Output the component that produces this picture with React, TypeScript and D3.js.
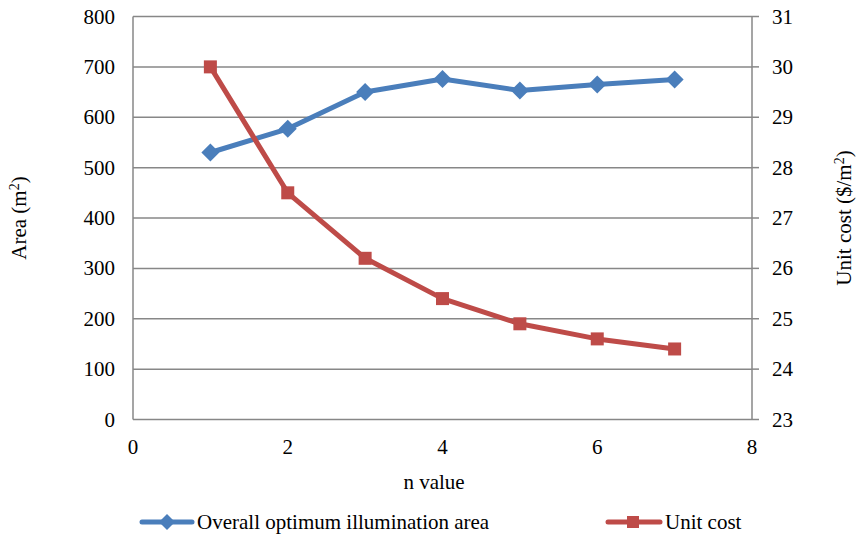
import React from "react";
import * as d3 from "d3";

const nValues = [1, 2, 3, 4, 5, 6, 7];
const areaValues = [530, 577, 650, 676, 653, 665, 675];
const unitCostValues = [30, 27.5, 26.2, 25.4, 24.9, 24.6, 24.4];
const xTicks = [0, 2, 4, 6, 8];
const leftTicks = [0, 100, 200, 300, 400, 500, 600, 700, 800];
const rightTicks = [23, 24, 25, 26, 27, 28, 29, 30, 31];
const seriesNames = ["Overall optimum illumination area", "Unit cost"];

const W = 857, H = 538;
const L = 133, R = 752, T = 16.5, B = 419.5;
const BLUE = "#4A7EBB", RED = "#BE4B48", GRID = "#878787";
const FS = 21;
const FF = "Liberation Serif";
const TS: React.CSSProperties = { fontFamily: FF, fontSize: FS };

export default function App() {
  const x = d3.scaleLinear().domain([0, 8]).range([L, R]);
  const yL = d3.scaleLinear().domain([0, 800]).range([B, T]);
  const yR = d3.scaleLinear().domain([23, 31]).range([B, T]);

  const blueLine = d3.line<number>().x((_, i) => x(nValues[i])).y((d) => yL(d))(areaValues) || "";
  const redLine = d3.line<number>().x((_, i) => x(nValues[i])).y((d) => yR(d))(unitCostValues) || "";

  const diamond = (cx: number, cy: number, r: number) =>
    `M${cx},${cy - r}L${cx + r},${cy}L${cx},${cy + r}L${cx - r},${cy}Z`;

  return (
    <div style={{ position: "absolute", left: 0, top: 0, width: W, height: H }}>
      <svg width={W} height={H} fontFamily={FF}>
        <rect width={W} height={H} fill="#fff" />
        {leftTicks.map((t) => (
          <line key={"g" + t} x1={L} x2={R} y1={yL(t)} y2={yL(t)} stroke={GRID} strokeWidth={1.5} />
        ))}
        <line x1={L} x2={L} y1={T} y2={B} stroke={GRID} strokeWidth={1.5} />
        <line x1={R} x2={R} y1={T} y2={B} stroke={GRID} strokeWidth={1.5} />
        {rightTicks.map((t) => (
          <line key={"rt" + t} x1={R} x2={R + 7} y1={yR(t)} y2={yR(t)} stroke={GRID} strokeWidth={1.5} />
        ))}
        {leftTicks.map((t) => (
          <text key={"lt" + t} x={L - 18} y={yL(t) + 7} textAnchor="end" fill="#000" fontFamily={FF} style={TS}>{String(t)}</text>
        ))}
        {rightTicks.map((t) => (
          <text key={"rl" + t} x={R + 20} y={yR(t) + 7} textAnchor="start" fill="#000" fontFamily={FF} style={TS}>{String(t)}</text>
        ))}
        {xTicks.map((t) => (
          <text key={"xt" + t} x={x(t)} y={B + 34} textAnchor="middle" fill="#000" fontFamily={FF} style={TS}>{String(t)}</text>
        ))}
        <text x={434} y={489} textAnchor="middle" fill="#000" fontFamily={FF} style={TS}>n value</text>
        <text transform={`translate(26,218) rotate(-90)`} textAnchor="middle" fill="#000" fontFamily={FF} style={TS}>
          Area (m<tspan dy={-7} style={{ fontSize: 14 }}>2</tspan><tspan dy={7}>)</tspan>
        </text>
        <text transform={`translate(851,218) rotate(-90)`} textAnchor="middle" fill="#000" fontFamily={FF} style={TS}>
          Unit cost ($/m<tspan dy={-7} style={{ fontSize: 14 }}>2</tspan><tspan dy={7}>)</tspan>
        </text>

        <path d={blueLine} fill="none" stroke={BLUE} strokeWidth={5} strokeLinejoin="round" strokeLinecap="round" />
        <path d={redLine} fill="none" stroke={RED} strokeWidth={5} strokeLinejoin="round" strokeLinecap="round" />
        {areaValues.map((v, i) => (
          <path key={"bm" + i} d={diamond(x(nValues[i]), yL(v), 9)} fill={BLUE} />
        ))}
        {unitCostValues.map((v, i) => (
          <rect key={"rm" + i} x={x(nValues[i]) - 6.5} y={yR(v) - 6.5} width={13} height={13} fill={RED} />
        ))}

        <g>
          <line x1={142} x2={192} y1={522} y2={522} stroke={BLUE} strokeWidth={5} strokeLinecap="round" />
          <path d={diamond(167, 522, 8)} fill={BLUE} />
          <text x={197} y={529} fill="#000" fontFamily={FF} style={TS}>{seriesNames[0]}</text>
          <line x1={608} x2={660} y1={522} y2={522} stroke={RED} strokeWidth={5} strokeLinecap="round" />
          <rect x={627} y={516} width={12} height={12} fill={RED} />
          <text x={665} y={529} fill="#000" fontFamily={FF} style={TS}>{seriesNames[1]}</text>
        </g>
      </svg>
    </div>
  );
}
